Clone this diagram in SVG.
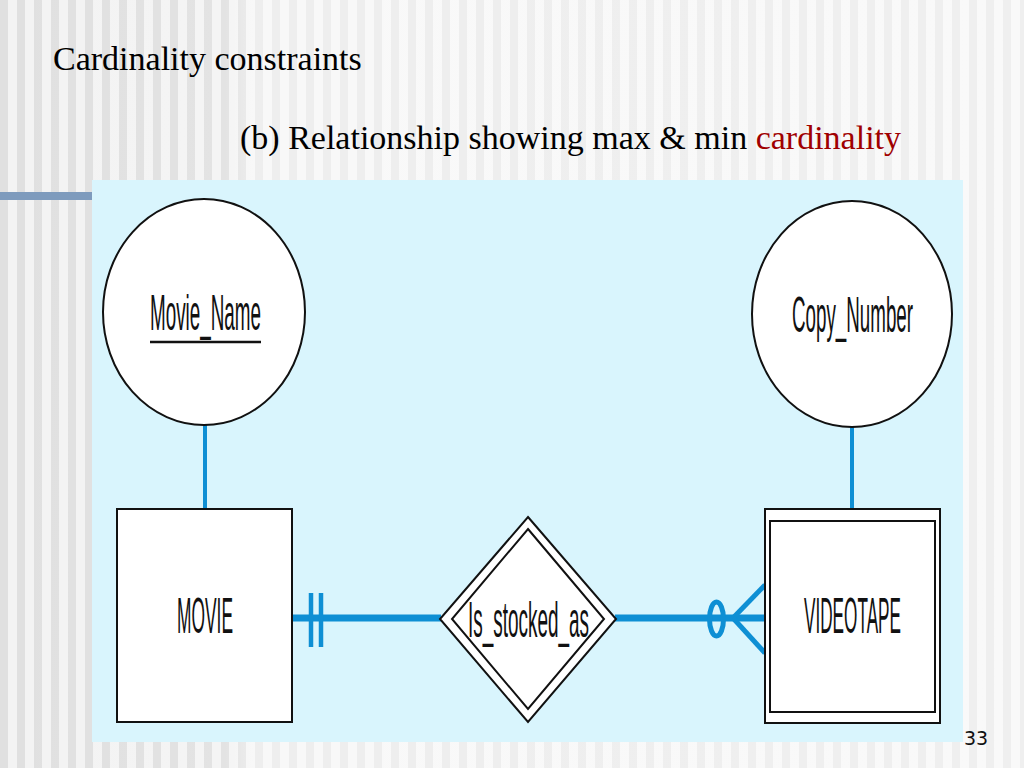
<svg xmlns="http://www.w3.org/2000/svg" width="1024" height="768" viewBox="0 0 1024 768">
  <defs>
    <pattern id="stripes" x="0" y="0" width="17" height="768" patternUnits="userSpaceOnUse">
      <rect x="0" y="0" width="17" height="768" fill="#f3f3f3"/>
      <rect x="0" y="0" width="8" height="768" fill="#e0e0e0"/>
    </pattern>
    <linearGradient id="fade" x1="0" y1="0" x2="1" y2="0">
      <stop offset="0" stop-color="#ffffff" stop-opacity="0"/>
      <stop offset="0.22" stop-color="#ffffff" stop-opacity="0.1"/>
      <stop offset="0.25" stop-color="#ffffff" stop-opacity="0.45"/>
      <stop offset="1" stop-color="#ffffff" stop-opacity="0.5"/>
    </linearGradient>
    <style>
      .er { fill: #ffffff; stroke: #111111; stroke-width: 2; }
      .lbl { font-family: "Liberation Sans", Arial, sans-serif; font-size: 50px; fill: #111111; }
      .conn { stroke: #0e8fd4; fill: none; }
      .title { font-family: "Liberation Serif", "Times New Roman", serif; font-size: 34px; fill: #000000; }
    </style>
  </defs>

  <!-- slide background -->
  <rect x="0" y="0" width="1024" height="768" fill="url(#stripes)"/>
  <rect x="0" y="0" width="1024" height="768" fill="url(#fade)"/>
  <rect x="0" y="192" width="92" height="8" fill="#7e9bbd"/>

  <!-- titles -->
  <text class="title" x="53" y="70">Cardinality constraints</text>
  <text class="title" x="240" y="149">(b) Relationship showing max &amp; min <tspan fill="#a00000">cardinality</tspan></text>

  <!-- diagram panel -->
  <rect x="92" y="180" width="871" height="562" fill="#d9f5fd"/>

  <!-- connectors -->
  <g id="connectors">
    <line class="conn" x1="205" y1="425" x2="205" y2="510" stroke-width="4"/>
    <line class="conn" x1="852" y1="427" x2="852" y2="510" stroke-width="4"/>
    <line class="conn" x1="292" y1="618" x2="441" y2="618" stroke-width="7"/>
    <line class="conn" x1="311" y1="593" x2="311" y2="647" stroke-width="4.5"/>
    <line class="conn" x1="321" y1="593" x2="321" y2="647" stroke-width="4.5"/>
    <line class="conn" x1="615" y1="618" x2="765" y2="618" stroke-width="7"/>
    <ellipse class="conn" cx="716.5" cy="619" rx="7" ry="17" stroke-width="5"/>
    <line class="conn" x1="733" y1="618" x2="765" y2="585" stroke-width="5"/>
    <line class="conn" x1="733" y1="618" x2="765" y2="653" stroke-width="5"/>
  </g>

  <!-- attribute: Movie_Name -->
  <g id="attr-movie-name">
    <ellipse class="er" cx="204" cy="312" rx="101" ry="113"/>
    <text class="lbl" transform="translate(150 330) scale(0.377 1)" x="0" y="0" font-size="51" textLength="294.4" lengthAdjust="spacingAndGlyphs">Movie_Name</text>
    <line x1="150" y1="342" x2="261" y2="342" stroke="#111111" stroke-width="2.5"/>
  </g>

  <!-- attribute: Copy_Number -->
  <g id="attr-copy-number">
    <ellipse class="er" cx="852" cy="314" rx="100" ry="113"/>
    <text class="lbl" transform="translate(792 332) scale(0.375 1)" x="0" y="0" font-size="51" textLength="322.7" lengthAdjust="spacingAndGlyphs">Copy_Number</text>
  </g>

  <!-- entity: MOVIE -->
  <g id="entity-movie">
    <rect class="er" x="117" y="509" width="175" height="213"/>
    <text class="lbl" transform="translate(177 633) scale(0.348 1)" x="0" y="0" textLength="160.9" lengthAdjust="spacingAndGlyphs">MOVIE</text>
  </g>

  <!-- relationship: Is_stocked_as -->
  <g id="rel-is-stocked-as">
    <polygon class="er" points="528,517 616,619 528,722 440,619"/>
    <polygon class="er" points="528,529 604,619 528,709 452,619"/>
    <text class="lbl" transform="translate(468 637) scale(0.379 1)" x="0" y="0" textLength="319.3" lengthAdjust="spacingAndGlyphs">Is_stocked_as</text>
  </g>

  <!-- weak entity: VIDEOTAPE -->
  <g id="entity-videotape">
    <rect class="er" x="765" y="509" width="175" height="214"/>
    <rect class="er" x="770" y="521" width="165" height="191" stroke-width="2.5"/>
    <text class="lbl" transform="translate(804 633) scale(0.339 1)" x="0" y="0" textLength="286.1" lengthAdjust="spacingAndGlyphs">VIDEOTAPE</text>
  </g>

  <!-- page number -->
  <text x="964" y="745" font-family="DejaVu Sans, Verdana, sans-serif" font-size="19" fill="#111111">33</text>
</svg>
